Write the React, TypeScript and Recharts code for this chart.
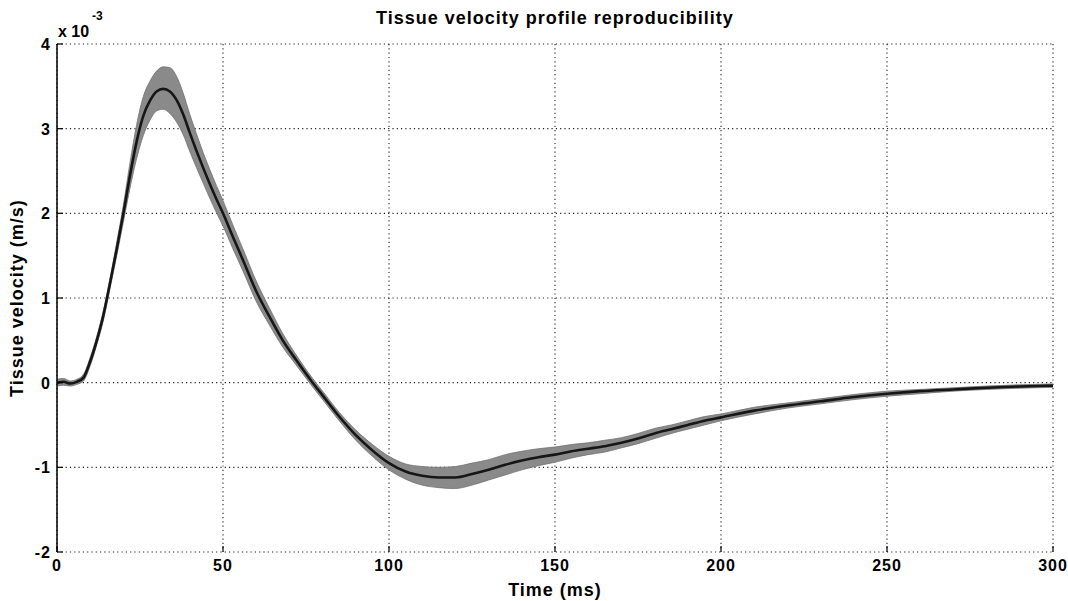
import React from 'react';
import { Area, CartesianGrid, ComposedChart, Line, XAxis, YAxis } from 'recharts';

// time (ms)
const time = [
  0, 2, 4, 6, 8, 10, 12, 14, 16, 18, 20, 22, 24, 26, 28, 30, 32, 34, 36, 38, 40, 42, 44, 46, 48, 50,
  53, 56, 60, 64, 68, 72, 77, 80, 85, 90, 95, 100, 105, 110, 115, 120, 125, 130, 135, 140, 145, 150,
  155, 160, 165, 170, 175, 180, 185, 190, 195, 200, 210, 220, 230, 240, 250, 260, 270, 280, 290, 300
];

// mean tissue velocity (x 10^-3 m/s)
const meanVel = [
  0.0, 0.01, -0.01, 0.01, 0.06, 0.25, 0.5, 0.8, 1.18, 1.58, 2.0, 2.45, 2.85, 3.15, 3.33, 3.44, 3.47,
  3.44, 3.34, 3.17, 2.95, 2.74, 2.54, 2.35, 2.17, 2.0, 1.72, 1.45, 1.08, 0.78, 0.5, 0.27, 0.0, -0.15,
  -0.4, -0.62, -0.8, -0.95, -1.05, -1.1, -1.12, -1.12, -1.08, -1.03, -0.97, -0.92, -0.88, -0.85, -0.81,
  -0.78, -0.75, -0.71, -0.66, -0.6, -0.55, -0.5, -0.45, -0.41, -0.33, -0.27, -0.22, -0.17, -0.13, -0.1,
  -0.08, -0.06, -0.045, -0.035
];

// lower edge of the reproducibility band
const lowerVel = [
  -0.04, -0.03, -0.04, -0.02, 0.02, 0.2, 0.45, 0.74, 1.12, 1.5, 1.9, 2.3, 2.65, 2.92, 3.1, 3.21, 3.23,
  3.18, 3.08, 2.93, 2.73, 2.54, 2.36, 2.18, 2.01, 1.85, 1.58, 1.32, 0.96, 0.68, 0.42, 0.21, -0.05, -0.2,
  -0.45, -0.68, -0.87, -1.03, -1.14, -1.21, -1.24, -1.25, -1.21, -1.15, -1.09, -1.03, -0.98, -0.94,
  -0.89, -0.85, -0.82, -0.77, -0.72, -0.66, -0.6, -0.55, -0.5, -0.45, -0.37, -0.3, -0.25, -0.2, -0.16,
  -0.13, -0.1, -0.08, -0.065, -0.055
];

// upper edge of the reproducibility band
const upperVel = [
  0.04, 0.05, 0.02, 0.04, 0.1, 0.3, 0.55, 0.86, 1.24, 1.66, 2.1, 2.6, 3.05, 3.38, 3.56, 3.68, 3.73,
  3.72, 3.62, 3.42, 3.17, 2.94, 2.72, 2.52, 2.33, 2.15, 1.86, 1.58, 1.2, 0.88, 0.58, 0.33, 0.05, -0.1,
  -0.35, -0.56, -0.73, -0.87, -0.96, -0.99, -1.0, -0.99, -0.95, -0.91, -0.85, -0.81, -0.78, -0.76,
  -0.73, -0.71, -0.68, -0.65, -0.6, -0.54, -0.5, -0.45, -0.4, -0.37, -0.29, -0.24, -0.19, -0.14, -0.1,
  -0.08, -0.06, -0.04, -0.025, -0.015
];

const xTicks = [0, 50, 100, 150, 200, 250, 300];
const yTicks = [-2, -1, 0, 1, 2, 3, 4];

const data = time.map((t, i) => ({
  t,
  mean: meanVel[i],
  band: [lowerVel[i], upperVel[i]]
}));

const W = 1068;
const H = 601;
const FONT = '"Liberation Sans", Arial, sans-serif';

const XTick = (props: any) => {
  const { x, y, payload } = props;
  const base = y - 6;
  return (
    <g>
      <line x1={x} x2={x} y1={base} y2={base - 6} stroke='#000' strokeWidth={1.2} />
      <text x={x} y={y} dy={13} textAnchor='middle' fontFamily={FONT} fontWeight='bold'
        fontSize={16} letterSpacing={1} fill='#000'>
        {payload.value}
      </text>
    </g>
  );
};

const YTick = (props: any) => {
  const { x, y, payload } = props;
  const base = x + 6;
  return (
    <g>
      <line x1={base} x2={base + 6} y1={y} y2={y} stroke='#000' strokeWidth={1.2} />
      <text x={x} y={y} dy={6} textAnchor='end' fontFamily={FONT} fontWeight='bold'
        fontSize={16} letterSpacing={1} fill='#000'>
        {payload.value}
      </text>
    </g>
  );
};

export default function App() {
  return (
    <div style={{ position: 'absolute', left: 0, top: 0, width: W, height: H, background: '#fff' }}>
      <ComposedChart width={W} height={H} data={data} margin={{ top: 44, right: 15, bottom: 0, left: 0 }}>
        <CartesianGrid stroke='#222' strokeDasharray='1.2 3.1' strokeWidth={1.1} />
        <XAxis dataKey='t' type='number' domain={[0, 300]} ticks={xTicks} height={49}
          axisLine={false} tickLine={false} tickSize={0} tickMargin={6} tick={<XTick />} interval={0} />
        <YAxis type='number' domain={[-2, 4]} ticks={yTicks} width={57}
          axisLine={{ stroke: '#000', strokeWidth: 1.5 }} tickLine={false} tickSize={0} tickMargin={6}
          tick={<YTick />} interval={0} />
        <Area dataKey='band' type='monotone' fill='#8a8a8a' fillOpacity={1} stroke='#707070'
          strokeWidth={0.8} isAnimationActive={false} />
        <Line dataKey='mean' type='monotone' stroke='#161616' strokeWidth={2.6} dot={false}
          isAnimationActive={false} />
      </ComposedChart>
      <svg width={W} height={H} style={{ position: 'absolute', left: 0, top: 0, pointerEvents: 'none' }}>
        <text x={555} y={24} textAnchor='middle' fontFamily={FONT} fontWeight='bold' fontSize={18}
          letterSpacing={1} fill='#000'>
          Tissue velocity profile reproducibility
        </text>
        <text x={58} y={37} fontFamily={FONT} fontWeight='bold' fontSize={16} fill='#000'>
          x 10
        </text>
        <text x={92} y={20} fontFamily={FONT} fontWeight='bold' fontSize={12} fill='#000'>
          -3
        </text>
        <text x={555} y={596} textAnchor='middle' fontFamily={FONT} fontWeight='bold' fontSize={18}
          letterSpacing={1} fill='#000'>
          Time (ms)
        </text>
        <text x={23} y={298} textAnchor='middle' transform='rotate(-90 23 298)' fontFamily={FONT}
          fontWeight='bold' fontSize={18} letterSpacing={1} fill='#000'>
          Tissue velocity (m/s)
        </text>
      </svg>
    </div>
  );
}
